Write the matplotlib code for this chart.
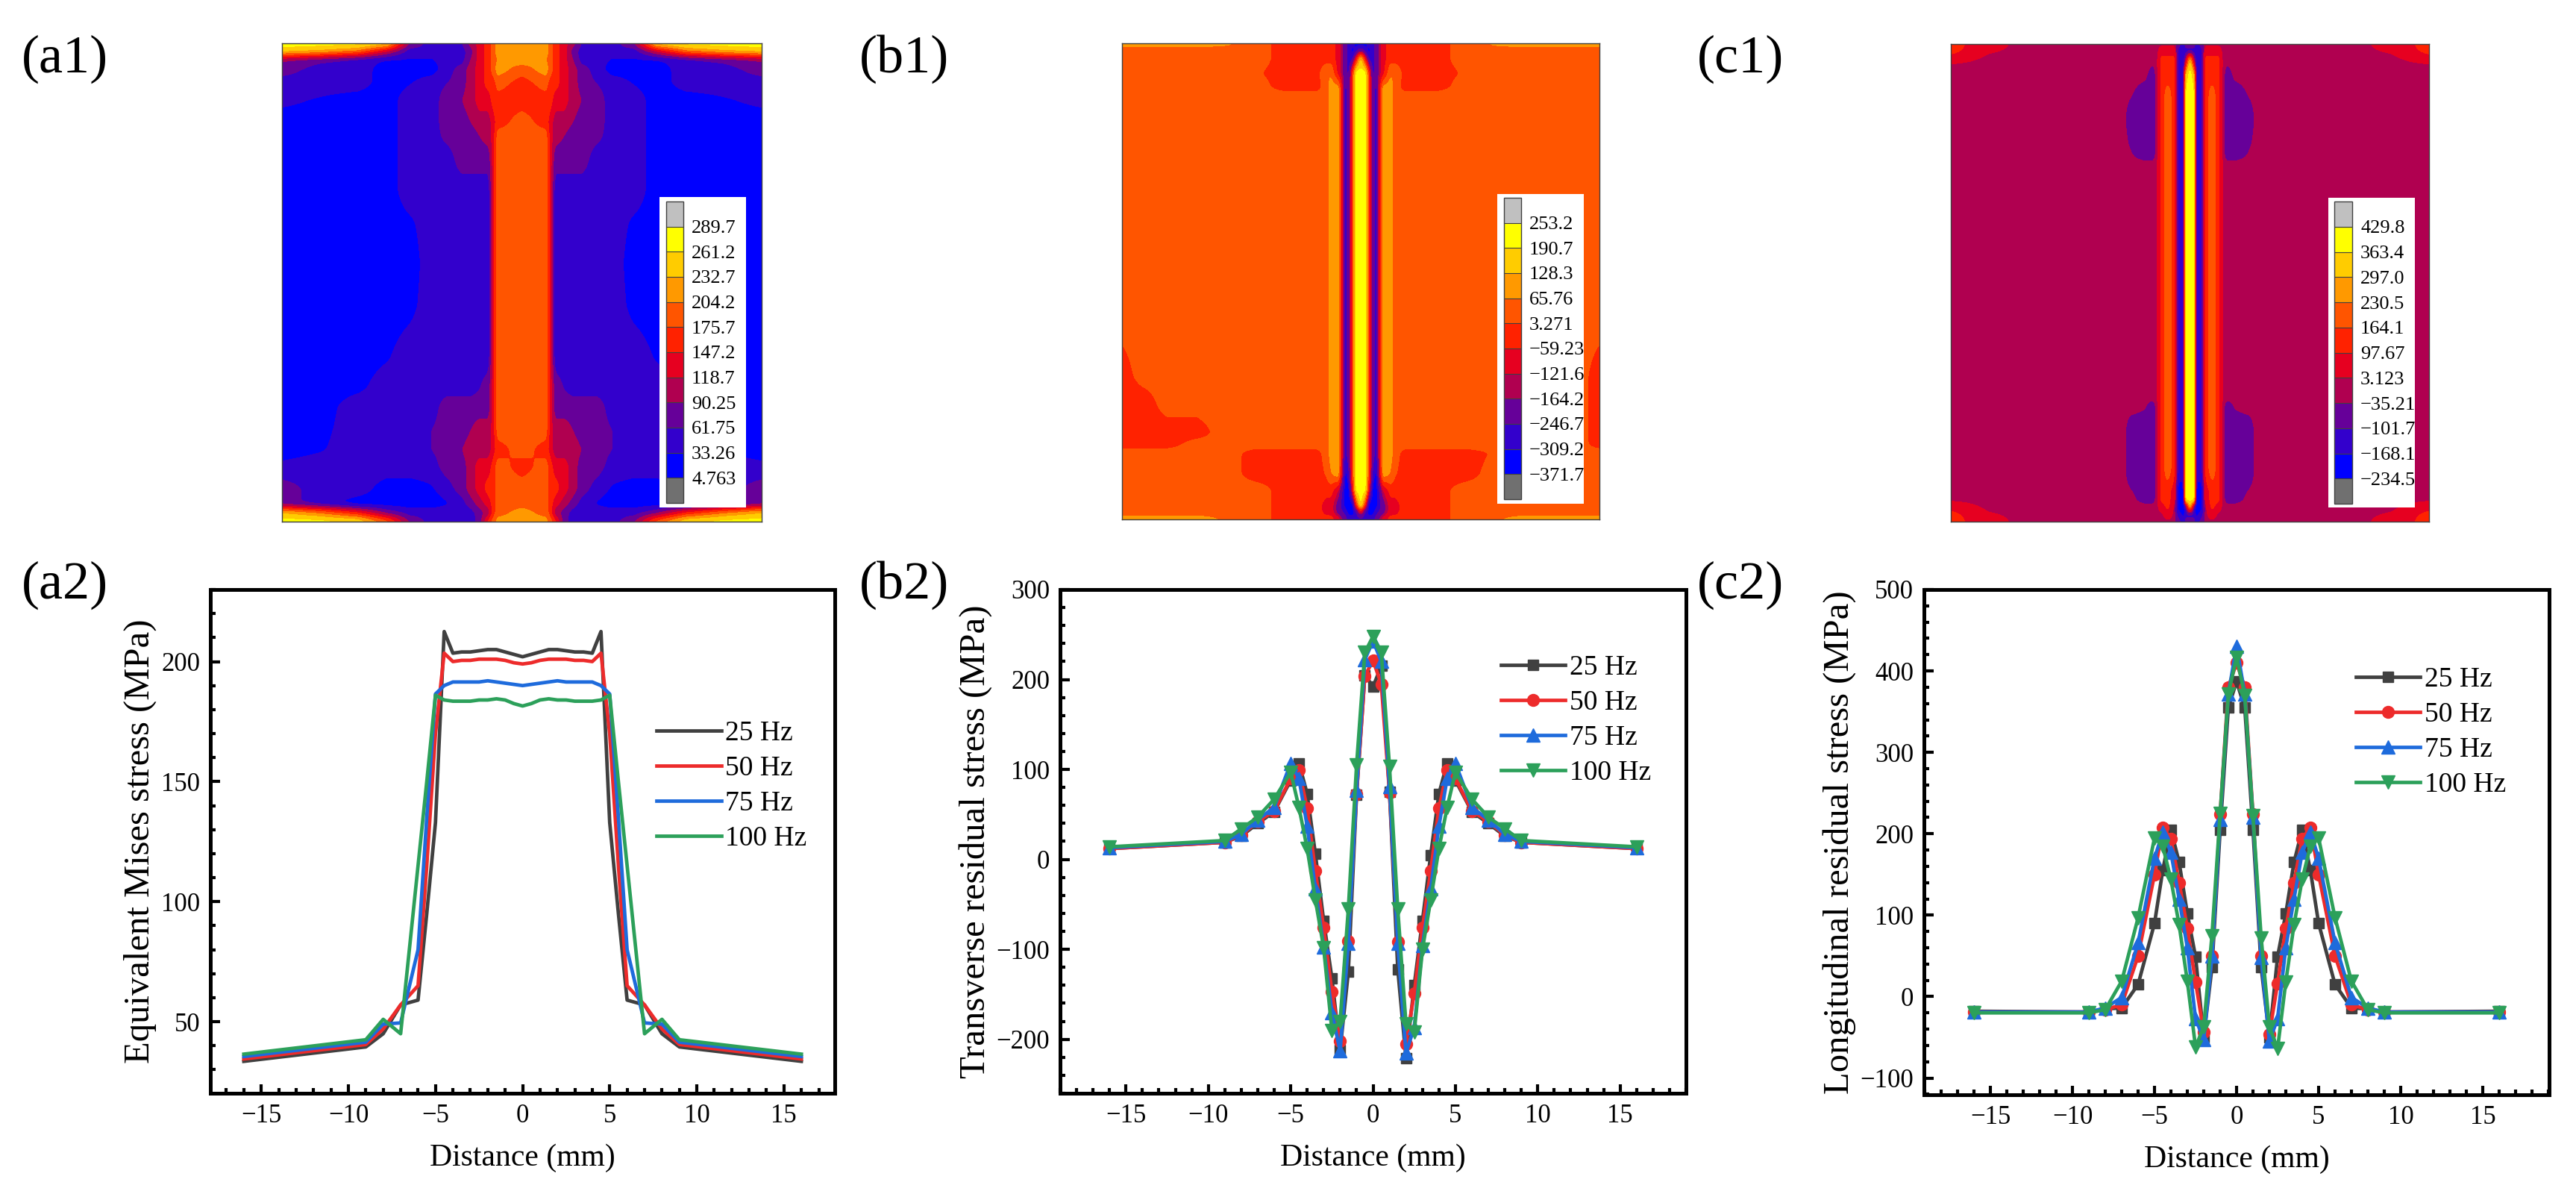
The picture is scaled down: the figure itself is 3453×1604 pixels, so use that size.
import numpy as np
import matplotlib
matplotlib.use('Agg')
import matplotlib.pyplot as plt
from matplotlib.cm import ScalarMappable
from matplotlib.colors import ListedColormap, BoundaryNorm
from matplotlib.ticker import MultipleLocator

plt.rcParams['font.family'] = ['Liberation Serif', 'DejaVu Serif']
plt.rcParams['mathtext.default'] = 'regular'

W, H = 3453, 1604

# contour band colours, low to high
band_colors = ['#0000FF', '#3300CC', '#660099', '#B00050', '#E60020', '#FF2200',
               '#FF5500', '#FF9900', '#FFCC00', '#FFFF00']
under_color = '#707070'
over_color = '#C0C0C0'

# ---- contour maps: values read by eye, right half of the map, rows top to bottom ----
a1_labels = ['4.763', '33.26', '61.75', '90.25', '118.7', '147.2', '175.7', '204.2', '232.7', '261.2', '289.7']
a1_x = [0, 1.6, 1.9, 2.2, 2.8, 3.4, 4, 5, 6, 7.5, 9, 11, 13.5, 16]
a1_y = [16, 15.5, 14.9, 14.25, 13.4, 12.2, 10.7, 9.8, 8.4, 6.2, 4, 1.3, -1.6, -5, -7, -8.3, -9.9, -11.2, -12.3, -13.8, -14.8, -15.4, -16]
a1_z = [
    [218, 218, 190, 161, 133, 104, 60, 48, 48, 90, 250, 275, 275, 275],
    [218, 218, 190, 161, 133, 76, 48, 48, 48, 48, 120, 200, 230, 247],
    [218, 205, 190, 161, 133, 90, 48, 48, 30, 30, 30, 48, 70, 90],
    [190, 218, 190, 161, 133, 104, 76, 48, 19, 19, 19, 48, 48, 76],
    [161, 190, 161, 161, 133, 104, 76, 60, 48, 30, 19, 48, 48, 48],
    [161, 161, 161, 133, 133, 104, 90, 76, 48, 48, 19, 19, 30, 40],
    [190, 161, 133, 104, 104, 90, 76, 76, 48, 48, 19, 19, 19, 19],
    [190, 190, 133, 104, 90, 76, 76, 70, 48, 48, 19, 19, 19, 19],
    [190, 190, 133, 76, 76, 76, 76, 48, 48, 48, 19, 19, 19, 19],
    [190, 190, 133, 48, 48, 48, 48, 48, 48, 48, 19, 19, 19, 19],
    [190, 190, 133, 48, 48, 48, 48, 48, 48, 28, 19, 19, 19, 19],
    [190, 190, 133, 48, 48, 48, 48, 48, 48, 19, 19, 19, 19, 19],
    [190, 190, 133, 48, 48, 48, 48, 48, 48, 25, 19, 19, 19, 19],
    [190, 190, 133, 48, 48, 48, 48, 48, 48, 48, 30, 19, 19, 19],
    [190, 190, 133, 76, 60, 48, 48, 48, 48, 48, 48, 25, 19, 19],
    [190, 190, 133, 76, 76, 76, 76, 76, 48, 48, 48, 48, 19, 19],
    [190, 190, 133, 104, 104, 90, 76, 76, 62, 48, 48, 48, 25, 19],
    [190, 161, 133, 104, 104, 104, 90, 76, 62, 48, 48, 48, 30, 19],
    [161, 190, 161, 133, 133, 104, 76, 76, 48, 48, 48, 48, 48, 40],
    [190, 190, 161, 161, 133, 104, 76, 48, 30, 19, 19, 48, 48, 76],
    [190, 190, 161, 133, 104, 76, 48, 30, 19, 19, 19, 19, 48, 76],
    [218, 190, 161, 104, 76, 48, 48, 48, 48, 48, 80, 150, 200, 235],
    [218, 218, 190, 161, 76, 48, 48, 48, 48, 90, 190, 261, 275, 275],
]

b1_labels = ['\u2212371.7', '\u2212309.2', '\u2212246.7', '\u2212164.2', '\u2212121.6', '\u221259.23', '3.271', '65.76', '128.3', '190.7', '253.2']
b1_x = [0, 0.3, 0.55, 0.8, 1.05, 1.5, 2.0, 2.25, 3, 5, 7, 9, 11, 13, 14.5, 16]
b1_y = [16, 15.5, 15, 14, 13, 12.5, 5, -3.8, -6.3, -8, -10.2, -11, -11.5, -13, -14, -15, -15.5, -16]
b1_z = [
    [-340, -340, -278, -278, -205, -90, -28, -28, -28, -28, 34, 80, 97, 97, 97, 97],
    [-205, -278, -340, -278, -205, -90, -28, -28, -28, -28, 34, 34, 34, 34, 34, 34],
    [159, -90, -278, -278, -205, -90, -28, -28, -28, -28, 34, 34, 34, 34, 34, 34],
    [222, 222, -28, -278, -205, -90, 60, 60, -28, -28, 10, 34, 34, 34, 34, 34],
    [222, 222, -28, -205, -278, 97, 97, 34, -28, -28, 34, 34, 34, 34, 34, 34],
    [222, 222, -28, -205, -278, 97, 97, 34, 34, 34, 34, 34, 34, 34, 34, 34],
    [222, 222, -28, -205, -278, 97, 97, 34, 34, 34, 34, 34, 34, 34, 34, 34],
    [222, 222, -28, -205, -278, 97, 97, 34, 34, 34, 34, 34, 34, 34, 34, 10],
    [222, 222, -28, -205, -278, 97, 97, 34, 34, 34, 34, 34, 34, 34, 34, -28],
    [222, 222, -28, -205, -278, 97, 97, 34, 34, 34, 34, 34, 34, 34, 34, -28],
    [222, 222, -28, -205, -278, 97, 97, 34, 34, 34, 34, 34, 34, 34, 34, -28],
    [222, 222, -28, -205, -278, 97, 97, 34, 34, 34, 34, 34, 34, 34, 34, -28],
    [222, 222, -28, -205, -278, 97, 97, 34, -28, -28, -28, 10, 34, 34, 34, 34],
    [222, 222, -28, -278, -340, 97, 60, 10, -28, -28, -28, 34, 34, 34, 34, 34],
    [222, 222, -90, -340, -340, -120, -28, -28, -28, -28, 34, 34, 34, 34, 34, 34],
    [222, -28, -340, -340, -340, -205, -90, -90, -28, -28, 34, 34, 34, 34, 34, 34],
    [-90, -278, -340, -340, -278, -205, -90, -90, -28, -28, 34, 34, 34, 34, 34, 34],
    [-278, -278, -278, -278, -205, -90, -28, -28, -28, -28, 34, 60, 97, 97, 97, 97],
]
# left edge of b1 is not the mirror of the right edge
b1_left_x = [16, 14.5, 13, 11, 9]
b1_left_rows = [-3.8, -6.3, -8, -10.2, -11, -11.5]
b1_left_z = [
    [10, 34, 34, 34, 34],
    [-28, 34, 34, 34, 34],
    [-28, -28, 34, 34, 34],
    [-28, -28, -28, -28, 34],
    [-28, -28, -28, 34, 34],
    [34, 34, 34, 34, 34],
]

c1_labels = ['\u2212234.5', '\u2212168.1', '\u2212101.7', '\u221235.21', '3.123', '97.67', '164.1', '230.5', '297.0', '363.4', '429.8']
c1_x = [0, 0.28, 0.42, 0.8, 1.05, 1.48, 1.9, 2.2, 2.5, 3, 4, 4.5, 7, 11.5, 13.5, 16]
c1_y = [16, 15.5, 15, 14.5, 14, 12.6, 11, 8.6, 7.9, -7.7, -8.2, -10, -12.6, -14, -14.5, -15, -15.5, -16]
c1_z = [
    [-68, -68, -135, -68, -16, -16, -16, -16, -16, -16, -16, -16, -16, -16, 50, 130],
    [-135, -135, -135, -135, 50, 50, 50, -16, -16, -16, -16, -16, -16, -16, 10, 130],
    [300, -50, -135, -135, 130, 130, 130, -16, -16, -16, -16, -16, -16, -16, -16, 40],
    [396, 100, -135, -135, 130, 130, 130, -16, -40, -16, -16, -16, -16, -16, -16, -16],
    [396, 300, -135, -135, 130, 130, 130, -16, -68, -20, -16, -16, -16, -16, -16, -16],
    [396, 396, -135, -135, 130, 197, 130, -16, -68, -68, -30, -16, -16, -16, -16, -16],
    [396, 396, -135, -135, 130, 197, 130, -16, -68, -68, -68, -16, -16, -16, -16, -16],
    [396, 396, -135, -135, 130, 197, 130, -16, -68, -68, -30, -16, -16, -16, -16, -16],
    [396, 396, -135, -135, 130, 197, 130, -16, -16, -16, -16, -16, -16, -16, -16, -16],
    [396, 396, -135, -135, 130, 197, 130, -16, -16, -16, -16, -16, -16, -16, -16, -16],
    [396, 396, -135, -135, 130, 197, 130, -16, -68, -30, -16, -16, -16, -16, -16, -16],
    [396, 396, -135, -135, 130, 197, 130, -16, -68, -68, -68, -16, -16, -16, -16, -16],
    [396, 396, -135, -135, 130, 197, 130, -16, -68, -68, -68, -16, -16, -16, -16, -16],
    [396, 396, -200, -200, 50, 130, 130, -16, -68, -68, -30, -16, -16, -16, -16, -16],
    [396, 396, -200, -200, 50, 130, 130, -16, -68, -68, -16, -16, -16, -16, -16, -16],
    [330, -135, -200, -200, -16, 130, 50, -16, -16, -16, -16, -16, -16, -16, -16, 50],
    [-135, -135, -200, -135, -16, 50, -16, -16, -16, -16, -16, -16, -16, -16, 10, 130],
    [-68, -68, -135, -68, -16, -16, -16, -16, -16, -16, -16, -16, -16, -16, 50, 130],
]

# ---- line charts ----
series_names = ['25 Hz', '50 Hz', '75 Hz', '100 Hz']
series_colors = ['#404040', '#ED2B2B', '#1E6BDC', '#2CA05A']
series_markers = ['s', 'o', '^', 'v']

a2_x = [-16, -9, -8, -7, -6, -5.5, -5, -4.5, -4, -3.5, -3, -2.5, -2, -1.5, -1, -0.5, 0,
        0.5, 1, 1.5, 2, 2.5, 3, 3.5, 4, 4.5, 5, 5.5, 6, 7, 8, 9, 16]
a2_25 = [33.5, 39.5, 45, 57, 59, 95, 133, 212.5, 203.5, 204, 204, 204.5, 205, 205, 204, 203, 202,
         203, 204, 205, 205, 204.5, 204, 204, 203.5, 212.5, 133, 95, 59, 57, 45, 39.5, 33.5]
a2_50 = [34.5, 40.5, 47, 57, 65, 115, 170, 203.5, 200, 200.5, 200.5, 201, 201, 201, 200.5, 199.5, 199,
         199.5, 200.5, 201, 201, 201, 200.5, 200.5, 200, 203.5, 170, 115, 65, 57, 47, 40.5, 34.5]
a2_75 = [35.5, 41.5, 49, 49.5, 80, 135, 186.5, 190, 191.5, 191.5, 191.5, 191.5, 192, 191.5, 191, 190.5, 190,
         190.5, 191, 191.5, 192, 191.5, 191.5, 191.5, 191.5, 190, 186.5, 135, 80, 49.5, 49, 41.5, 35.5]
a2_100 = [36.5, 42.5, 51, 45, 115, 150, 186, 184, 183.5, 183.5, 183.5, 184, 184, 184.5, 184, 182.5, 181.5,
          182.5, 184, 184.5, 184, 184, 183.5, 183.5, 183.5, 184, 186, 150, 115, 45, 51, 42.5, 36.5]

b2_x = [-16, -9, -8, -7, -6, -5, -4.5, -4, -3.5, -3, -2.5, -2, -1.5, -1, -0.5, 0,
        0.5, 1, 1.5, 2, 2.5, 3, 3.5, 4, 4.5, 5, 6, 7, 8, 9, 16]
b2_25 = [12, 19, 26, 40, 53, 88, 107, 73, 6, -68, -132, -212, -125, 72, 205, 192,
         215, 75, -122, -221, -140, -68, 5, 73, 107, 88, 53, 40, 26, 19, 12]
b2_50 = [12, 19, 27, 42, 54, 90, 99, 57, -13, -76, -147, -202, -91, 73, 204, 221,
         195, 74, -92, -205, -149, -76, -13, 57, 99, 90, 54, 42, 27, 19, 12]
b2_75 = [13, 20, 28, 44, 58, 107, 90, 37, -33, -97, -170, -213, -93, 77, 222, 243,
         220, 81, -93, -215, -187, -96, -33, 37, 90, 107, 58, 44, 28, 20, 13]
b2_100 = [14, 21, 34, 47, 67, 97, 58, 12, -45, -98, -190, -180, -55, 105, 230, 248,
          230, 103, -55, -183, -192, -100, -45, 12, 58, 97, 67, 47, 34, 21, 14]

c2_x = b2_x
c2_25 = [-18, -19, -15, -14, 15, 90, 155, 205, 165, 102, 49, -50, 36, 205, 355, 387,
         355, 205, 36, -50, 49, 102, 165, 205, 155, 90, 15, -14, -15, -19, -18]
c2_50 = [-19, -19, -16, -10, 50, 150, 208, 194, 140, 84, 18, -44, 50, 224, 380, 410,
         380, 224, 50, -46, 16, 84, 140, 194, 208, 150, 50, -10, -16, -19, -19]
c2_75 = [-19, -19, -14, -1, 66, 170, 202, 177, 120, 60, -27, -53, 50, 218, 372, 430,
         372, 220, 48, -55, -27, 60, 120, 177, 202, 170, 66, -1, -14, -19, -19]
c2_100 = [-20, -20, -16, 19, 97, 195, 185, 144, 88, 19, -62, -37, 75, 225, 372, 417,
          370, 222, 72, -37, -64, 18, 88, 144, 185, 195, 97, 19, -16, -20, -20]


fig = plt.figure(figsize=(W / 100, H / 100), dpi=100, facecolor='white')


def px_axes(left, top, right, bottom):
    return fig.add_axes([left / W, 1 - bottom / H, (right - left) / W, (bottom - top) / H])


def box_blur(a, k, axis):
    # plain running mean, edges held
    if k < 2:
        return a
    pad = [(0, 0), (0, 0)]
    pad[axis] = (k // 2, k // 2)
    b = np.pad(a, pad, mode='edge')
    return np.apply_along_axis(lambda v: np.convolve(v, np.ones(k) / k, mode='valid'), axis, b)


def fine_field(xx, y, zz, n=640):
    # regular grid so the read-off bands come out with rounded edges
    gx = np.linspace(-16, 16, n)
    gy = np.linspace(-16, 16, n)
    yy = y[::-1]
    z1 = np.array([np.interp(gy, yy, zz[::-1, j]) for j in range(zz.shape[1])]).T
    z2 = np.array([np.interp(gx, xx, z1[i]) for i in range(n)])
    for _ in range(2):
        z2 = box_blur(z2, 7, 0)
        z2 = box_blur(z2, 3, 1)
    return gx, gy, z2


def draw_map(box, xh, y, z, labels, legend_box, bar_box, left_rows=None, left_x=None, left_z=None):
    ax = px_axes(*box)
    xh = np.array(xh, dtype=float)
    z = np.array(z, dtype=float)
    y = np.array(y, dtype=float)
    xx = np.concatenate([-xh[:0:-1], xh])
    zz = np.hstack([z[:, :0:-1], z])
    if left_rows is not None:
        for r, row in zip(left_rows, left_z):
            i = list(y).index(r)
            for xv, v in zip(left_x, row):
                j = list(xx).index(-xv)
                zz[i, j] = v
    levels = [float(s.replace('\u2212', '-')) for s in labels]
    cmap = ListedColormap(band_colors)
    cmap.set_under(under_color)
    cmap.set_over(over_color)
    norm = BoundaryNorm(levels, cmap.N)
    gx, gy, gz = fine_field(xx, y, zz)
    ax.contourf(gx, gy, gz, levels=levels, cmap=cmap, norm=norm, extend='both')
    ax.set_xlim(-16, 16)
    ax.set_ylim(-16, 16)
    ax.set_xticks([])
    ax.set_yticks([])
    for s in ax.spines.values():
        s.set_linewidth(1.0)
        s.set_color('#404040')
    # legend inside the map
    lax = px_axes(*legend_box)
    lax.set_xticks([])
    lax.set_yticks([])
    lax.set_facecolor('white')
    for s in lax.spines.values():
        s.set_visible(False)
    cax = px_axes(*bar_box)
    cb = fig.colorbar(ScalarMappable(norm=norm, cmap=cmap), cax=cax, extend='both', extendrect=True,
                      extendfrac=0.1, spacing='uniform', drawedges=True)
    cb.set_ticks(levels, labels=labels)
    cb.minorticks_off()
    cb.ax.tick_params(length=0, pad=8, labelsize=19)
    cb.outline.set_linewidth(1.0)
    cb.outline.set_edgecolor('#404040')
    cb.dividers.set_linewidth(0.8)
    cb.dividers.set_color('#404040')


def draw_lines(box, x, ys, ylim, xlim, ymajor, yminor, ylabel, legend_at, markers=True):
    ax = px_axes(*box)
    for y, name, c, m in zip(ys, series_names, series_colors, series_markers):
        if markers:
            ms = {'s': 10.5, 'o': 11.5, '^': 13, 'v': 13}[m]
            ax.plot(x, y, color=c, lw=3.4, marker=m, ms=ms, label=name)
        else:
            ax.plot(x, y, color=c, lw=3.4, label=name)
    ax.set_xlim(-xlim, xlim)
    ax.set_ylim(*ylim)
    ax.xaxis.set_major_locator(MultipleLocator(5))
    ax.xaxis.set_minor_locator(MultipleLocator(1))
    ax.yaxis.set_major_locator(MultipleLocator(ymajor))
    ax.yaxis.set_minor_locator(MultipleLocator(yminor))
    ax.tick_params(which='major', direction='in', length=9, width=3, labelsize=25, pad=10)
    ax.tick_params(which='minor', direction='in', length=5, width=3)
    for s in ax.spines.values():
        s.set_linewidth(3.6)
    ax.set_xlabel('Distance (mm)', fontsize=30, labelpad=15)
    ax.set_ylabel(ylabel, fontsize=35, labelpad=4)
    ax.legend(loc='upper left', bbox_to_anchor=legend_at, frameon=False, fontsize=27, handlelength=2.3,
              handletextpad=0.15, labelspacing=0.33, borderpad=0, borderaxespad=0, numpoints=1)


draw_map((378, 58, 1021, 699), a1_x, a1_y, a1_z, a1_labels, (884, 264, 1000, 680), (893, 270, 916, 674))
draw_map((1504, 58, 2144, 696), b1_x, b1_y, b1_z, b1_labels, (2007, 260, 2123, 675), (2016, 265, 2039, 669),
         left_rows=b1_left_rows, left_x=b1_left_x, left_z=b1_left_z)
draw_map((2615, 59, 3256, 699), c1_x, c1_y, c1_z, c1_labels, (3121, 265, 3237, 680), (3129, 270, 3153, 675))

draw_lines((282, 790, 1119, 1465), a2_x, [a2_25, a2_50, a2_75, a2_100], (20.2, 230), 17.92, 50, 10,
           'Equivalent Mises stress (MPa)', (0.715, 0.74), markers=False)
draw_lines((1421, 790, 2260, 1465), b2_x, [b2_25, b2_50, b2_75, b2_100], (-260, 300), 19, 100, 20,
           'Transverse residual stress (MPa)', (0.704, 0.87))
draw_lines((2579, 790, 3417, 1467), c2_x, [c2_25, c2_50, c2_75, c2_100], (-120.6, 500), 19.05, 100, 20,
           'Longitudinal residual stress (MPa)', (0.691, 0.847))

# panel letters
panel_text = ['(a1)', '(b1)', '(c1)', '(a2)', '(b2)', '(c2)']
panel_x = [29, 1152, 2275, 29, 1152, 2275]
panel_y = [79, 79, 79, 784, 784, 784]
for t, px, py in zip(panel_text, panel_x, panel_y):
    fig.text(px / W, 1 - py / H, t, fontsize=52, ha='left', va='center')

fig.savefig('out.png', dpi=100)
